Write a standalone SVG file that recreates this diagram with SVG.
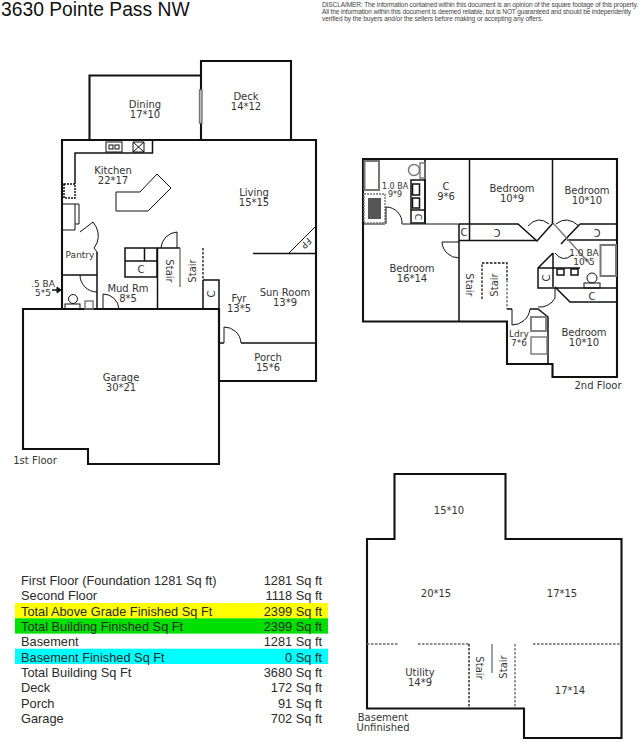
<svg xmlns="http://www.w3.org/2000/svg" width="640" height="743" viewBox="0 0 640 743">
<style>
text{font-family:"DejaVu Sans",Verdana,sans-serif;font-size:10px;fill:#333;text-anchor:middle}
.t{font-family:"Liberation Sans",Arial,sans-serif;font-size:12.800px;text-anchor:start;fill:#2a2a2a}
.r{text-anchor:end}
.d{font-family:"Liberation Sans",Arial,sans-serif;font-size:6.600px;text-anchor:start;fill:#444}
.s{font-size:9px}
.xs{font-size:8px}
path,rect,circle{fill:none;stroke:#111}
.w{stroke-width:2.100}
.m{stroke-width:1.500}
.n{stroke-width:1}
.g{stroke:#777;stroke-width:1.400}
.dash{stroke-width:1.300;stroke-dasharray:2.500 1.500}
.gd{stroke:#666;stroke-width:1.300;stroke-dasharray:2.500 1.500}
</style>
<rect width="640" height="743" style="fill:#fff;stroke:none"/>
<g id="header">
<text class="t" x="1" y="16" style="font-size:19.300px;fill:#111">3630 Pointe Pass NW</text>
<text class="d" x="322" y="6.500" textLength="316">DISCLAIMER: The information contained within this document is an opinion of the square footage of this property.</text>
<text class="d" x="322" y="13.500" textLength="309">All the information within this document is deemed reliable, but is NOT guaranteed and should be independently</text>
<text class="d" x="322" y="20.500" textLength="221">verified by the buyers and/or the sellers before making or accepting any offers.</text>
</g>
<g id="first-floor">
<g id="ff-walls">
<path class="w" d="M62 309V140H89.500M89.500 140V75.500H201M291 140H316V381H219M219 309V381M201 140H89.500"/>
<path class="w" d="M201 61H291V140H201Z"/>
<path class="w" d="M23 309H219V464H88V449H23Z"/>
<path class="m" d="M219 343H224M241 343H316M253 253.500H316"/>
<path class="m" d="M62 275H97M97 252V309"/>
<path class="m" d="M157.500 248V309"/>
<path class="n" d="M289 253L316 226"/>
<rect class="g" x="199.500" y="90" width="2.500" height="33" style="fill:#ccc"/>
</g>
<g id="ff-kitchen">
<path class="m" d="M75 184V153H152.500V140"/>
<rect class="n" x="106" y="142" width="16" height="10"/>
<rect class="n" x="109" y="145" width="4" height="4"/>
<rect class="n" x="115" y="145" width="4" height="4"/>
<path class="n" d="M133 142H144V152H133ZM133 142L144 152M144 142L133 152"/>
<rect class="m" x="64" y="184" width="11" height="14" stroke-dasharray="2 1"/>
<path class="n" d="M63 204H75V230H63M75 204H79V224H75"/>
<path class="n" d="M116 192H140L157 174L171 188L148 211H116Z"/>
<path class="n" d="M80 232L93 222Q101 232 97 243L94 248L97 252"/>
</g>
<g id="ff-closet">
<path class="m" d="M125 248H157V277H125ZM125 261H157M144.500 248V261"/>
<path class="n" d="M177 232V248M161 248A17 17 0 0 1 177 232"/>
<path class="m" d="M157 248H180"/>
<path class="g" d="M180 248V287"/>
<path class="dash" d="M203 248V280"/>
<path class="m" d="M203 280H219V309M203 280V309"/>
</g>
<g id="ff-bath">
<path class="n" d="M80 275A17 17 0 0 0 97 292"/>
<circle class="n" cx="73" cy="299" r="4.500"/>
<rect class="n" x="65" y="304" width="15" height="5"/>
<rect class="g" x="85" y="301" width="8" height="8"/>
<path class="m" d="M52 290H57"/>
<path d="M57 287L61 290L57 293Z" style="fill:#111"/>
</g>
<g id="ff-doors">
<path class="n" d="M103 309V294A16 16 0 0 1 119 309"/>
<path class="n" d="M224 343V327A17 17 0 0 1 241 343"/>
</g>
<g id="ff-labels">
<text x="145" y="108">Dining</text><text x="145" y="118">17*10</text>
<text x="246" y="100">Deck</text><text x="246" y="110">14*12</text>
<text x="113" y="174">Kitchen</text><text x="113" y="184">22*17</text>
<text x="254" y="196">Living</text><text x="254" y="206">15*15</text>
<text x="80" y="258" class="s">Pantry</text>
<text x="43" y="287" class="s">.5 BA</text><text x="43" y="296" class="s">5*5</text>
<text x="128" y="292">Mud Rm</text><text x="128" y="302">8*5</text>
<text x="239" y="302">Fyr</text><text x="239" y="312">13*5</text>
<text x="285" y="296">Sun Room</text><text x="285" y="306">13*9</text>
<text x="268" y="361">Porch</text><text x="268" y="371">15*6</text>
<text x="121" y="381">Garage</text><text x="121" y="391">30*21</text>
<text x="35" y="464">1st Floor</text>
<text x="141" y="273">C</text>
<text transform="translate(165.500 271) rotate(90)">Stair</text>
<text transform="translate(196 271) rotate(-90)">Stair</text>
<text transform="translate(215 294) rotate(-90)">C</text>
<text transform="translate(304 241) rotate(135)" class="s">FP</text>
</g>
</g>
<g id="second-floor">
<g id="sf-walls">
<path class="w" d="M363 159H617V377H552.500V364H507V321.500H363Z"/>
<path class="n" d="M363 224H385M402 224H459"/>
<path class="m" d="M459 224V321M459 224H518L537 241L553 223M459 240.500H537"/>
<path class="m" d="M469.500 159V240M552.500 159V223M425 159V224"/>
<path class="m" d="M580 224H617M580 224L561 244M567 240H617"/>
<path class="g" d="M553 223L590 264"/>
<path class="n" d="M528 226Q538 215 549 224M556 224Q567 215 579 226"/>
<path class="m" d="M553 253L538 268V288H617M553 253V287M538 268H580"/>
<path class="m" d="M555 287L570 302H617"/>
<path class="n" d="M555 253Q563 263 572 255M442 242A17 17 0 0 0 459 258M442 242H459"/>
</g>
<g id="sf-bath1">
<rect class="g" x="364.500" y="161" width="14.500" height="29" style="stroke-width:2"/>
<rect class="g" x="364" y="194" width="21" height="29" stroke-dasharray="2 1"/>
<rect x="368" y="198" width="13" height="21" style="fill:#555;stroke:none"/>
<path class="n" d="M386 224V207A16 16 0 0 1 402 224"/>
<circle class="g" cx="414" cy="170" r="5.500"/>
<rect class="g" x="420" y="163" width="5" height="15"/>
<rect class="m" x="411" y="180" width="14" height="43"/>
<rect class="m" x="412.500" y="184" width="7" height="11"/>
<rect class="m" x="412.500" y="198" width="7" height="10"/>
<path class="m" d="M411 210H425"/>
</g>
<g id="sf-bath2">
<rect class="g" x="600.500" y="245" width="15.500" height="31" style="stroke-width:2"/>
<rect class="m" x="557" y="269" width="7" height="6"/>
<rect class="m" x="571" y="269" width="7" height="6"/>
<circle class="n" cx="592" cy="278" r="5"/>
<rect class="n" x="584" y="283" width="16" height="5"/>
</g>
<g id="sf-stair">
<path class="dash" d="M482 299V263H507V280"/>
<path class="gd" d="M507 280V309"/>
</g>
<g id="sf-laundry">
<path class="m" d="M507 309H512M530 309H538L548 317V364"/>
<path class="n" d="M512 309V325A18 18 0 0 0 530 309"/>
<rect class="g" x="531" y="317" width="15" height="14" style="stroke-width:1.800"/>
<rect class="g" x="531" y="337" width="16" height="17"/>
<path class="n" d="M555 288V298A17 17 0 0 1 538 307"/>
</g>
<g id="sf-labels">
<text x="412" y="272">Bedroom</text><text x="412" y="281.500">16*14</text>
<text x="512" y="192">Bedroom</text><text x="512" y="202">10*9</text>
<text x="587" y="194">Bedroom</text><text x="587" y="203.500">10*10</text>
<text x="446" y="190">C</text><text x="446" y="200">9*6</text>
<text x="395" y="189" class="xs">1.0 BA</text><text x="395" y="197" class="xs">9*9</text>
<text x="584" y="256" class="s">1.0 BA</text><text x="584" y="265" class="s">10*5</text>
<text x="519" y="337" class="s">Ldry</text><text x="519" y="346" class="s">7*6</text>
<text x="584" y="336">Bedroom</text><text x="584" y="346">10*10</text>
<text x="598" y="389">2nd Floor</text>
<text x="464" y="236">C</text>
<text x="592" y="300">C</text>
<text transform="translate(497 232) rotate(180) translate(0 3.500)">C</text>
<text transform="translate(597 232) rotate(180) translate(0 3.500)">C</text>
<text transform="translate(418 217) rotate(90) translate(0 3.500)" class="s">C</text>
<text transform="translate(546 278) rotate(-90) translate(0 3.500)">C</text>
<text transform="translate(466 285) rotate(90)">Stair</text>
<text transform="translate(498 285) rotate(-90)">Stair</text>
</g>
</g>
<g id="basement">
<path class="w" d="M394.500 474H505.500V539H621.500V738H524V708.500H367V539H394.500Z"/>
<path class="gd" d="M367 644H399M418 644H470M533 644H621"/>
<path class="dash" d="M469 644V708"/>
<path class="gd" d="M515 644V708"/>
<path class="g" d="M492 644V673"/>
<text x="449" y="514">15*10</text>
<text x="436" y="597">20*15</text>
<text x="562" y="597">17*15</text>
<text x="420" y="676">Utility</text><text x="420" y="686">14*9</text>
<text x="570" y="694">17*14</text>
<text x="383" y="721">Basement</text><text x="383" y="731">Unfinished</text>
<text transform="translate(476 668) rotate(90)">Stair</text>
<text transform="translate(507 667) rotate(-90)">Stair</text>
</g>
<g id="summary">
<rect x="15" y="603" width="313" height="15.300" style="fill:#ffff00;stroke:none"/>
<rect x="15" y="618.300" width="313" height="15.300" style="fill:#00e000;stroke:none"/>
<rect x="15" y="648.700" width="313" height="15.300" style="fill:#00ffff;stroke:none"/>
<text class="t" x="21" y="585">First Floor (Foundation 1281 Sq ft)</text><text class="t r" x="322" y="585">1281 Sq ft</text>
<text class="t" x="21" y="600">Second Floor</text><text class="t r" x="322" y="600">1118 Sq ft</text>
<text class="t" x="21" y="615.500">Total Above Grade Finished Sq Ft</text><text class="t r" x="322" y="615.500">2399 Sq ft</text>
<text class="t" x="21" y="631">Total Building Finished Sq Ft</text><text class="t r" x="322" y="631">2399 Sq ft</text>
<text class="t" x="21" y="646">Basement</text><text class="t r" x="322" y="646">1281 Sq ft</text>
<text class="t" x="21" y="661.500">Basement Finished Sq Ft</text><text class="t r" x="322" y="661.500">0 Sq ft</text>
<text class="t" x="21" y="677">Total Building Sq Ft</text><text class="t r" x="322" y="677">3680 Sq ft</text>
<text class="t" x="21" y="692">Deck</text><text class="t r" x="322" y="692">172 Sq ft</text>
<text class="t" x="21" y="707.500">Porch</text><text class="t r" x="322" y="707.500">91 Sq ft</text>
<text class="t" x="21" y="723">Garage</text><text class="t r" x="322" y="723">702 Sq ft</text>
</g>
</svg>
